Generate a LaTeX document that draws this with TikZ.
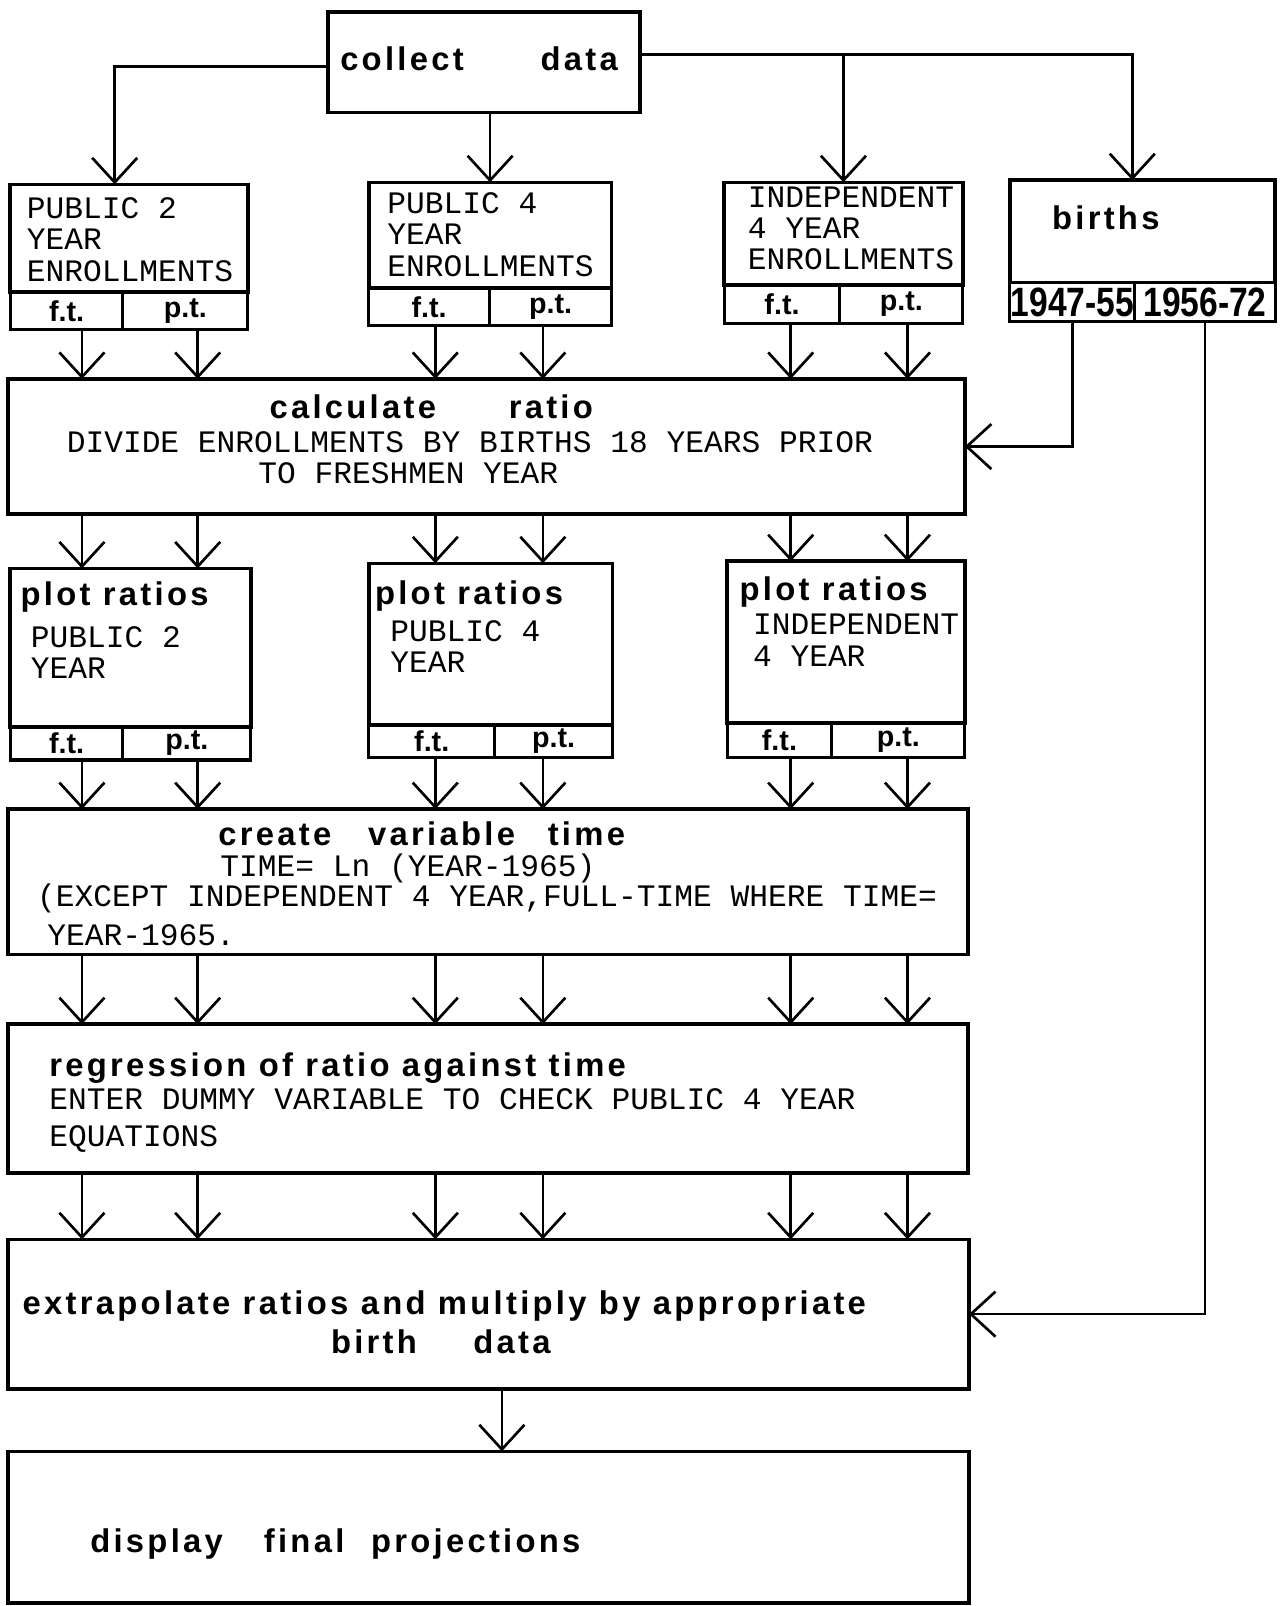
\documentclass[tikz,border=0pt]{standalone}
\usepackage{fontspec}
\setmonofont{Liberation Mono}
\newfontfamily\headfont{Liberation Sans}
\newfontfamily\spacedfont[LetterSpace=10]{Liberation Sans}
\newfontfamily\yearfont[FakeStretch=0.82]{Liberation Sans}
\usetikzlibrary{positioning,arrows.meta}
\tikzset{
  flow/.style={-{Straight Barb[length=24pt,width=44pt]},line width=2.6pt},
  box/.style={draw,line width=3.5pt,anchor=north west,inner sep=0pt,outer sep=0pt},
  cell/.style={draw,line width=3pt,anchor=north west,inner sep=0pt,outer sep=0pt,
    font=\headfont\bfseries\fontsize{28}{28}\selectfont},
  yearcell/.style={cell,font=\yearfont\bfseries\fontsize{40}{40}\selectfont},
  bold/.style={font=\spacedfont\bfseries\fontsize{32}{33}\selectfont},
  head/.style={bold,anchor=west,inner sep=0pt},
  typed/.style={anchor=west,inner sep=0pt,align=left,
    font=\ttfamily\fontsize{30.5}{30.5}\selectfont}
}

\begin{document}
\begin{tikzpicture}[x=1pt,y=-1pt]
  \useasboundingbox (0,0) rectangle (1255,1568);
  % columns of the six f.t./p.t. streams
  \coordinate (c1) at (80,0);
  \coordinate (c2) at (193,0);
  \coordinate (c3) at (425,0);
  \coordinate (c4) at (530,0);
  \coordinate (c5) at (772,0);
  \coordinate (c6) at (886,0);

  \node[box,minimum width=305pt,minimum height=98pt] (collect) at (320,12) {};
  \node[head] (collectlbl) at (332,57) {collect\hspace{75pt}data};

  % enrollment and birth data
  \node[box,minimum width=232pt,minimum height=105pt] (pub2) at (10,180) {};
  \node[typed] (pub2lbl) at (26,234) {PUBLIC 2\\YEAR\\ENROLLMENTS};
  \node[cell,minimum width=110pt,minimum height=37pt] (pub2ft) at (pub2.south west) {f.t.};
  \node[cell,minimum width=122pt,minimum height=37pt] (pub2pt) at (pub2ft.north east) {p.t.};

  \node[box,minimum width=237pt,minimum height=103pt] (pub4) at (360,178) {};
  \node[typed] (pub4lbl) at (378,229) {PUBLIC 4\\YEAR\\ENROLLMENTS};
  \node[cell,minimum width=118pt,minimum height=37pt] (pub4ft) at (pub4.south west) {f.t.};
  \node[cell,minimum width=119pt,minimum height=37pt] (pub4pt) at (pub4ft.north east) {p.t.};

  \node[box,minimum width=233pt,minimum height=100pt] (ind) at (707,178) {};
  \node[typed] (indlbl) at (730,223) {INDEPENDENT\\4 YEAR\\ENROLLMENTS};
  \node[cell,minimum width=113pt,minimum height=38pt] (indft) at (ind.south west) {f.t.};
  \node[cell,minimum width=120pt,minimum height=38pt] (indpt) at (indft.north east) {p.t.};

  \node[box,minimum width=259pt,minimum height=100pt] (births) at (986,176) {};
  \node[head] (birthslbl) at (1027,213) {births};
  \node[yearcell,minimum width=122pt,minimum height=38pt] (yr1) at (births.south west) {1947-55};
  \node[yearcell,minimum width=137pt,minimum height=38pt] (yr2) at (yr1.north east) {1956-72};

  \node[box,minimum width=934pt,minimum height=132pt] (calc) at (8,370) {};
  \node[head] (calclbl) at (263,397) {calculate\hspace{71pt}ratio};
  \node[typed] (calctxt) at (65,432) {DIVIDE ENROLLMENTS BY BIRTHS 18 YEARS PRIOR};
  \node[typed] (calctxt2) at (252,462) {TO FRESHMEN YEAR};

  % plots
  \node[box,minimum width=235pt,minimum height=155pt] (plot2) at (10,555) {};
  \node[head] (plot2lbl) at (20,583) {plot ratios};
  \node[typed] (plot2txt) at (30,637) {PUBLIC 2\\YEAR};
  \node[cell,minimum width=110pt,minimum height=32pt] (plot2ft) at (plot2.south west) {f.t.};
  \node[cell,minimum width=125pt,minimum height=32pt] (plot2pt) at (plot2ft.north east) {p.t.};

  \node[box,minimum width=238pt,minimum height=158pt] (plot4) at (360,550) {};
  \node[head] (plot4lbl) at (366,582) {plot ratios};
  \node[typed] (plot4txt) at (381,631) {PUBLIC 4\\YEAR};
  \node[cell,minimum width=123pt,minimum height=32pt] (plot4ft) at (plot4.south west) {f.t.};
  \node[cell,minimum width=115pt,minimum height=32pt] (plot4pt) at (plot4ft.north east) {p.t.};

  \node[box,minimum width=232pt,minimum height=158pt] (plotind) at (710,548) {};
  \node[head] (plotindlbl) at (722,578) {plot ratios};
  \node[typed] (plotindtxt) at (735,625) {INDEPENDENT\\4 YEAR};
  \node[cell,minimum width=102pt,minimum height=34pt] (plotindft) at (plotind.south west) {f.t.};
  \node[cell,minimum width=130pt,minimum height=34pt] (plotindpt) at (plotindft.north east) {p.t.};

  \node[box,minimum width=937pt,minimum height=142pt] (create) at (8,790) {};
  \node[head] (createlbl) at (213,814) {create\hspace{36pt}variable\hspace{32pt}time};
  \node[typed] (createtxt) at (215,848) {TIME= Ln (YEAR-1965)};
  \node[typed] (createtxt2) at (36,877) {(EXCEPT INDEPENDENT 4 YEAR,FULL-TIME WHERE TIME=};
  \node[typed] (createtxt3) at (46,913) {YEAR-1965.};

  \node[box,minimum width=937pt,minimum height=145pt] (regr) at (8,1000) {};
  \node[head] (regrlbl) at (48,1043) {regression of ratio against time};
  \node[typed] (regrtxt) at (48,1094) {ENTER DUMMY VARIABLE TO CHECK PUBLIC 4 YEAR\\[6.5pt]EQUATIONS};

  \node[box,minimum width=938pt,minimum height=146pt] (extrap) at (8,1210) {};
  \node[head] (extraplbl) at (22,1275) {extrapolate ratios and multiply by appropriate};
  \node[head] (extraplbl2) at (323,1310) {birth\hspace{55pt}data};

  \node[box,minimum width=938pt,minimum height=148pt] (display) at (8,1417) {};
  \node[head] (displaylbl) at (88,1507) {display\hspace{40pt}final\hspace{26pt}projections};

  % connectors from collect data
  \coordinate (lbranch) at ([yshift=-4pt]collect.west);
  \coordinate (rbranch) at ([yshift=8pt]collect.east);
  \draw[flow] (lbranch) -| ([xshift=-14pt]pub2.north);
  \draw[flow] (collect.south -| pub4.north) -- (pub4.north);
  \draw[flow] (rbranch) -| ([xshift=-10pt]births.north);
  \draw[flow] (rbranch -| ind.north) -- (ind.north);

  % births into the ratio and the extrapolation
  \draw[flow] (yr1.south) |- (calc.east);
  \draw[flow] (yr2.south) |- (extrap.east);

  \draw[flow] (pub2ft.south -| c1) -- (calc.north -| c1);
  \draw[flow] (pub2pt.south -| c2) -- (calc.north -| c2);
  \draw[flow] (pub4ft.south -| c3) -- (calc.north -| c3);
  \draw[flow] (pub4pt.south -| c4) -- (calc.north -| c4);
  \draw[flow] (indft.south -| c5) -- (calc.north -| c5);
  \draw[flow] (indpt.south -| c6) -- (calc.north -| c6);

  \draw[flow] (calc.south -| c1) -- (plot2.north -| c1);
  \draw[flow] (calc.south -| c2) -- (plot2.north -| c2);
  \draw[flow] (calc.south -| c3) -- (plot4.north -| c3);
  \draw[flow] (calc.south -| c4) -- (plot4.north -| c4);
  \draw[flow] (calc.south -| c5) -- (plotind.north -| c5);
  \draw[flow] (calc.south -| c6) -- (plotind.north -| c6);

  \draw[flow] (plot2ft.south -| c1) -- (create.north -| c1);
  \draw[flow] (plot2pt.south -| c2) -- (create.north -| c2);
  \draw[flow] (plot4ft.south -| c3) -- (create.north -| c3);
  \draw[flow] (plot4pt.south -| c4) -- (create.north -| c4);
  \draw[flow] (plotindft.south -| c5) -- (create.north -| c5);
  \draw[flow] (plotindpt.south -| c6) -- (create.north -| c6);

  \draw[flow] (create.south -| c1) -- (regr.north -| c1);
  \draw[flow] (create.south -| c2) -- (regr.north -| c2);
  \draw[flow] (create.south -| c3) -- (regr.north -| c3);
  \draw[flow] (create.south -| c4) -- (regr.north -| c4);
  \draw[flow] (create.south -| c5) -- (regr.north -| c5);
  \draw[flow] (create.south -| c6) -- (regr.north -| c6);

  \draw[flow] (regr.south -| c1) -- (extrap.north -| c1);
  \draw[flow] (regr.south -| c2) -- (extrap.north -| c2);
  \draw[flow] (regr.south -| c3) -- (extrap.north -| c3);
  \draw[flow] (regr.south -| c4) -- (extrap.north -| c4);
  \draw[flow] (regr.south -| c5) -- (extrap.north -| c5);
  \draw[flow] (regr.south -| c6) -- (extrap.north -| c6);

  \draw[flow] ([xshift=13pt]extrap.south) -- ([xshift=13pt]display.north);
\end{tikzpicture}
\end{document}
